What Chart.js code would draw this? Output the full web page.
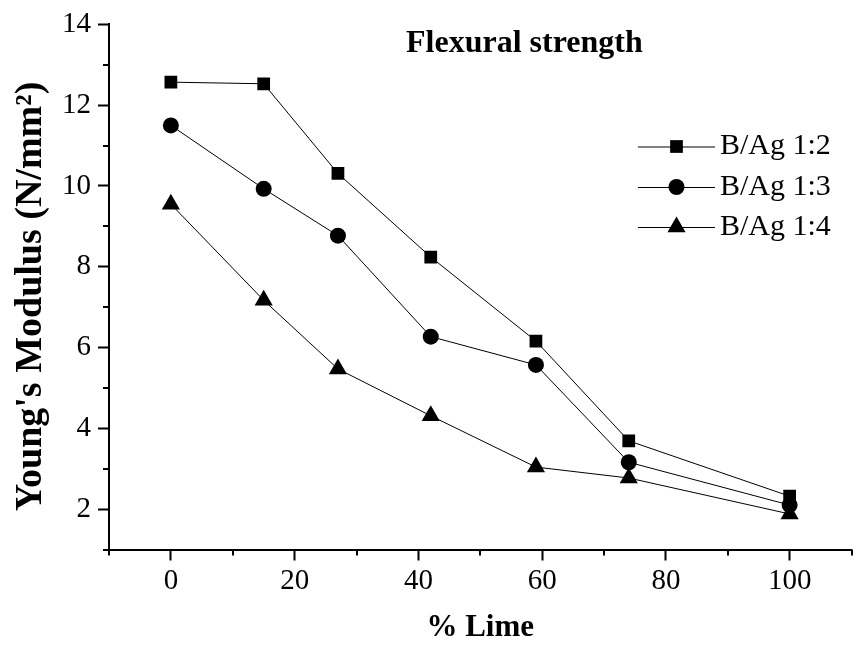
<!DOCTYPE html>
<html>
<head>
<meta charset="utf-8">
<script src="https://cdn.jsdelivr.net/npm/chart.js@4.4.1/dist/chart.umd.min.js"></script>
<style>
  html, body { margin: 0; padding: 0; background: #fff; }
  canvas { display: block; }
</style>
</head>
<body>
<canvas id="c" width="862" height="647"></canvas>
<script>
// ---- data ----
const limePercent = [0, 15, 27, 42, 59, 74, 100];
const bag12 = [12.57, 12.53, 10.31, 8.24, 6.16, 3.69, 2.32];
const bag13 = [11.50, 9.93, 8.77, 6.27, 5.57, 3.16, 2.10];
const bag14 = [9.55, 7.17, 5.47, 4.31, 3.04, 2.77, 1.88];
const seriesLabels = ['B/Ag 1:2', 'B/Ag 1:3', 'B/Ag 1:4'];
const xMajorTicks = [0, 20, 40, 60, 80, 100];
const xMinorTicks = [-10, 10, 30, 50, 70, 90, 110];
const yMajorTicks = [2, 4, 6, 8, 10, 12, 14];
const yMinorTicks = [1, 3, 5, 7, 9, 11, 13];
const chartTitle = 'Flexural strength';
const xTitle = '% Lime';
const yTitle = "Young's Modulus (N/mm\u00B2)  ";

const SERIF = "'Liberation Serif', 'Times New Roman', serif";

function pts(arr) { return limePercent.map((x, i) => ({ x: x, y: arr[i] })); }

const markerStyles = [
  { pointStyle: 'rect', radius: 9 },
  { pointStyle: 'circle', radius: 8 },
  { pointStyle: 'triangle', radius: 10.5 }
];
const seriesData = [bag12, bag13, bag14];

const datasets = seriesData.map((arr, i) => ({
  label: seriesLabels[i],
  data: pts(arr),
  borderColor: '#000',
  borderWidth: 1,
  backgroundColor: '#000',
  pointStyle: markerStyles[i].pointStyle,
  pointRadius: markerStyles[i].radius,
  pointHoverRadius: markerStyles[i].radius,
  pointBackgroundColor: '#000',
  pointBorderColor: '#000',
  pointBorderWidth: 0,
  tension: 0,
  fill: false
}));

function drawMarker(ctx, style, r, x, y) {
  ctx.save();
  ctx.fillStyle = '#000';
  ctx.beginPath();
  if (style === 'rect') {
    const s = r / Math.SQRT2;
    ctx.rect(x - s, y - s, 2 * s, 2 * s);
  } else if (style === 'circle') {
    ctx.arc(x, y, r, 0, Math.PI * 2);
  } else if (style === 'triangle') {
    for (let k = 0; k < 3; k++) {
      const a = -Math.PI / 2 + k * 2 * Math.PI / 3;
      const px = x + Math.cos(a) * r, py = y + Math.sin(a) * r;
      if (k === 0) ctx.moveTo(px, py); else ctx.lineTo(px, py);
    }
    ctx.closePath();
  }
  ctx.fill();
  ctx.restore();
}

const decorPlugin = {
  id: 'decor',
  afterDraw(chart) {
    const ctx = chart.ctx;
    const xs = chart.scales.x, ys = chart.scales.y;
    ctx.save();
    // minor ticks
    ctx.strokeStyle = '#000';
    ctx.lineWidth = 2;
    xMinorTicks.forEach(v => {
      const px = Math.round(xs.getPixelForValue(v));
      ctx.beginPath();
      ctx.moveTo(px, xs.top);
      ctx.lineTo(px, xs.top + 6);
      ctx.stroke();
    });
    yMinorTicks.forEach(v => {
      const py = Math.round(ys.getPixelForValue(v));
      ctx.beginPath();
      ctx.moveTo(ys.right - 6, py);
      ctx.lineTo(ys.right, py);
      ctx.stroke();
    });
    // title inside plot
    ctx.fillStyle = '#000';
    ctx.font = "bold 32px " + SERIF;
    ctx.textAlign = 'left';
    ctx.textBaseline = 'middle';
    ctx.fillText(chartTitle, 406, 44);
    // legend
    const rows = [146.5, 187, 227];
    ctx.font = "30px " + SERIF;
    chart.data.datasets.forEach((ds, i) => {
      const y = rows[i];
      ctx.strokeStyle = '#000';
      ctx.lineWidth = 1;
      ctx.beginPath();
      ctx.moveTo(638, y + 0.5);
      ctx.lineTo(715, y + 0.5);
      ctx.stroke();
      drawMarker(ctx, ds.pointStyle, ds.pointRadius, 676.5, y);
      ctx.fillStyle = '#000';
      ctx.textAlign = 'left';
      ctx.textBaseline = 'middle';
      ctx.fillText(ds.label, 720, y);
    });
    ctx.restore();
  }
};

new Chart(document.getElementById('c'), {
  type: 'line',
  data: { datasets: datasets },
  options: {
    responsive: false,
    animation: false,
    devicePixelRatio: 1,
    layout: { padding: { top: 23, right: 2.5, left: 0, bottom: 0 } },
    plugins: {
      legend: { display: false },
      tooltip: { enabled: false },
      title: { display: false }
    },
    scales: {
      x: {
        type: 'linear',
        min: -10,
        max: 110,
        afterBuildTicks: s => { s.ticks = xMajorTicks.map(v => ({ value: v })); },
        afterFit: s => { s.height = 97.5; },
        ticks: {
          callback: v => String(v),
          font: { family: SERIF, size: 29 },
          color: '#000',
          padding: 3,
          maxRotation: 0,
          autoSkip: false
        },
        grid: {
          display: true,
          drawOnChartArea: false,
          drawTicks: true,
          tickLength: 11,
          tickWidth: 2,
          tickColor: '#000'
        },
        border: { display: true, color: '#000', width: 2 },
        title: {
          display: true,
          text: xTitle,
          color: '#000',
          font: { family: SERIF, size: 31, weight: 'bold' },
          padding: { top: 0, bottom: 0 }
        }
      },
      y: {
        type: 'linear',
        min: 1,
        max: 14,
        afterBuildTicks: s => { s.ticks = yMajorTicks.map(v => ({ value: v })); },
        afterFit: s => { s.width = 109; },
        ticks: {
          callback: v => String(v),
          font: { family: SERIF, size: 29 },
          color: '#000',
          padding: 7,
          autoSkip: false
        },
        grid: {
          display: true,
          drawOnChartArea: false,
          drawTicks: true,
          tickLength: 11,
          tickWidth: 2,
          tickColor: '#000'
        },
        border: { display: true, color: '#000', width: 2 },
        title: {
          display: true,
          text: yTitle,
          color: '#000',
          font: { family: SERIF, size: 38, weight: 'bold' },
          padding: { top: 8, bottom: 0 }
        }
      }
    }
  },
  plugins: [decorPlugin]
});
</script>
</body>
</html>
